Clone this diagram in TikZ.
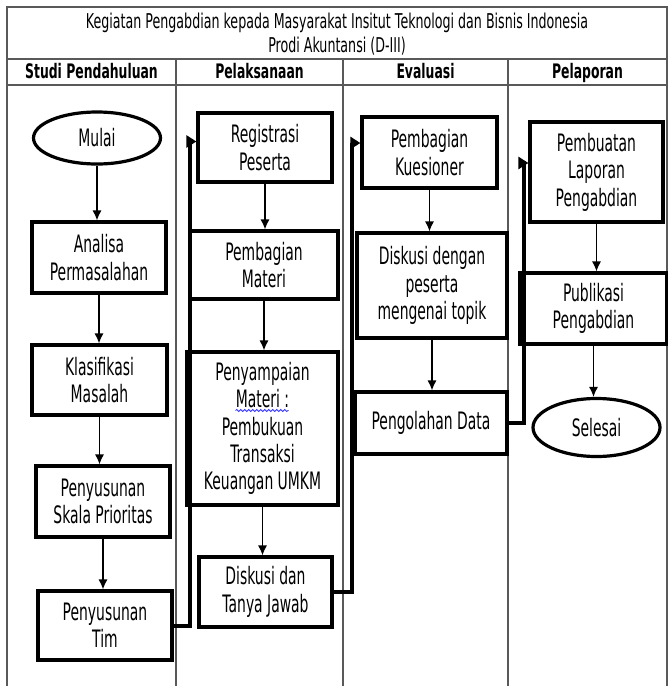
\documentclass[tikz,border=0pt]{standalone}
\usepackage{fontspec}
\setmainfont{DejaVu Sans}[FakeStretch=0.62]
\newfontfamily\boxfont{DejaVu Sans}[FakeStretch=0.58]
\usetikzlibrary{arrows.meta,shapes.geometric,decorations.pathmorphing}

\begin{document}
\begin{tikzpicture}[
      x=0.5pt, y=-0.5pt,
      grid/.style={draw=black!65, line width=0.6pt},
      head/.style={font=\fontsize{10}{12}\selectfont\bfseries, text height=8pt, text depth=2pt},
      box/.style={
          rectangle, draw, line width=1.6pt,
          align=center,
          inner sep=1pt,
          font=\boxfont\fontsize{12}{13.7}\selectfont
        },
      terminal/.style={ellipse, draw, line width=1.6pt, inner sep=0pt,
          font=\boxfont\fontsize{12}{13.7}\selectfont},
      flow/.style={draw, line width=0.6pt, -{Latex[length=5pt,width=4.5pt]}},
      jump/.style={draw, line width=2pt, -{Triangle[length=5pt,width=6pt]}},
    ]
    \useasboundingbox (0,0) rectangle (668,686);

    % table
    \draw[grid] (7,686) -- (7,7) -- (667,7) -- (667,686);
    \draw[grid] (7,59) -- (667,59);
    \draw[grid] (7,85) -- (667,85);
    \foreach \x in {176,343,508}
      \draw[grid] (\x,59) -- (\x,686);

    \node[align=center, font=\fontsize{10.2}{12.2}\selectfont] (judul) at (337,34)
      {Kegiatan Pengabdian kepada Masyarakat Insitut Teknologi dan Bisnis Indonesia\\Prodi Akuntansi (D-III)};
    \node[head] (studi) at (91.5,72) {Studi Pendahuluan};
    \node[head] (pelaksanaan) at (259.5,72) {Pelaksanaan};
    \node[head] (evaluasi) at (425.5,72) {Evaluasi};
    \node[head] (pelaporan) at (587.5,72) {Pelaporan};

    % studi pendahuluan
    \node[terminal, minimum width=63.5pt, minimum height=26pt] (mulai) at (97,138) {Mulai};
    \node[box, minimum width=67pt, minimum height=35.5pt] (analisa) at (99,257.5) {Analisa\\Permasalahan};
    \node[box, minimum width=67.5pt, minimum height=35pt] (klasifikasi) at (99.5,380) {Klasifikasi\\Masalah};
    \node[box, minimum width=67pt, minimum height=35.5pt] (skala) at (103,501.5) {Penyusunan\\Skala Prioritas};
    \node[box, minimum width=67pt, minimum height=34.5pt] (tim) at (105,625.5) {Penyusunan\\Tim};

    % pelaksanaan
    \node[box, minimum width=67pt, minimum height=34.5pt] (registrasi) at (265,147.5) {Registrasi\\Peserta};
    \node[box, minimum width=74pt, minimum height=34pt] (materi) at (264,265) {Pembagian\\Materi};
    \node[box, minimum width=75.5pt, minimum height=76.5pt] (penyampaian) at (262.5,428.5)
      {Penyampaian\\Materi :\\Pembukuan\\Transaksi\\Keuangan UMKM};
    \node[box, minimum width=66.5pt, minimum height=35pt] (tanya) at (265.5,592) {Diskusi dan\\Tanya Jawab};

    % evaluasi
    \node[box, minimum width=67.5pt, minimum height=35.5pt] (kuesioner) at (429.5,152.5) {Pembagian\\Kuesioner};
    \node[box, minimum width=75pt, minimum height=52.5pt] (diskusi) at (432,285.5) {Diskusi dengan\\peserta\\mengenai topik};
    \node[box, minimum width=76pt, minimum height=31pt] (olah) at (431,423) {Pengolahan Data};

    % pelaporan
    \node[box, minimum width=66.5pt, minimum height=50pt] (laporan) at (596.5,172) {Pembuatan\\Laporan\\Pengabdian};
    \node[box, minimum width=73.5pt, minimum height=35.5pt] (publikasi) at (593.5,308.5) {Publikasi\\Pengabdian};
    \node[terminal, minimum width=63.5pt, minimum height=29pt] (selesai) at (596.5,427.5) {Selesai};

    % spelling mark under "Materi :"
    \draw[blue!80, line width=0.4pt, decorate, decoration={snake, amplitude=0.5pt, segment length=2pt}]
      ([xshift=-13.5pt,yshift=9pt]penyampaian.center) -- ([xshift=13pt,yshift=9pt]penyampaian.center);

    % arrows inside the columns
    \foreach \a/\b in {mulai/analisa, analisa/klasifikasi, klasifikasi/skala, skala/tim,
        registrasi/materi, materi/penyampaian, penyampaian/tanya,
        kuesioner/diskusi, diskusi/olah,
        laporan/publikasi, publikasi/selesai}
      \draw[flow] (\a.south) -- (\a.south |- \b.north);

    % arrows between the columns
    \draw[jump] (tim.east) -- ++(16,0) |- ([yshift=3pt]registrasi.west);
    \draw[jump] (tanya.east) -- ++(18,0) |- ([yshift=4.75pt]kuesioner.west);
    \draw[jump] (olah.east) -- ++(15,0) |- ([yshift=4.5pt]laporan.west);
  \end{tikzpicture}
\end{document}
